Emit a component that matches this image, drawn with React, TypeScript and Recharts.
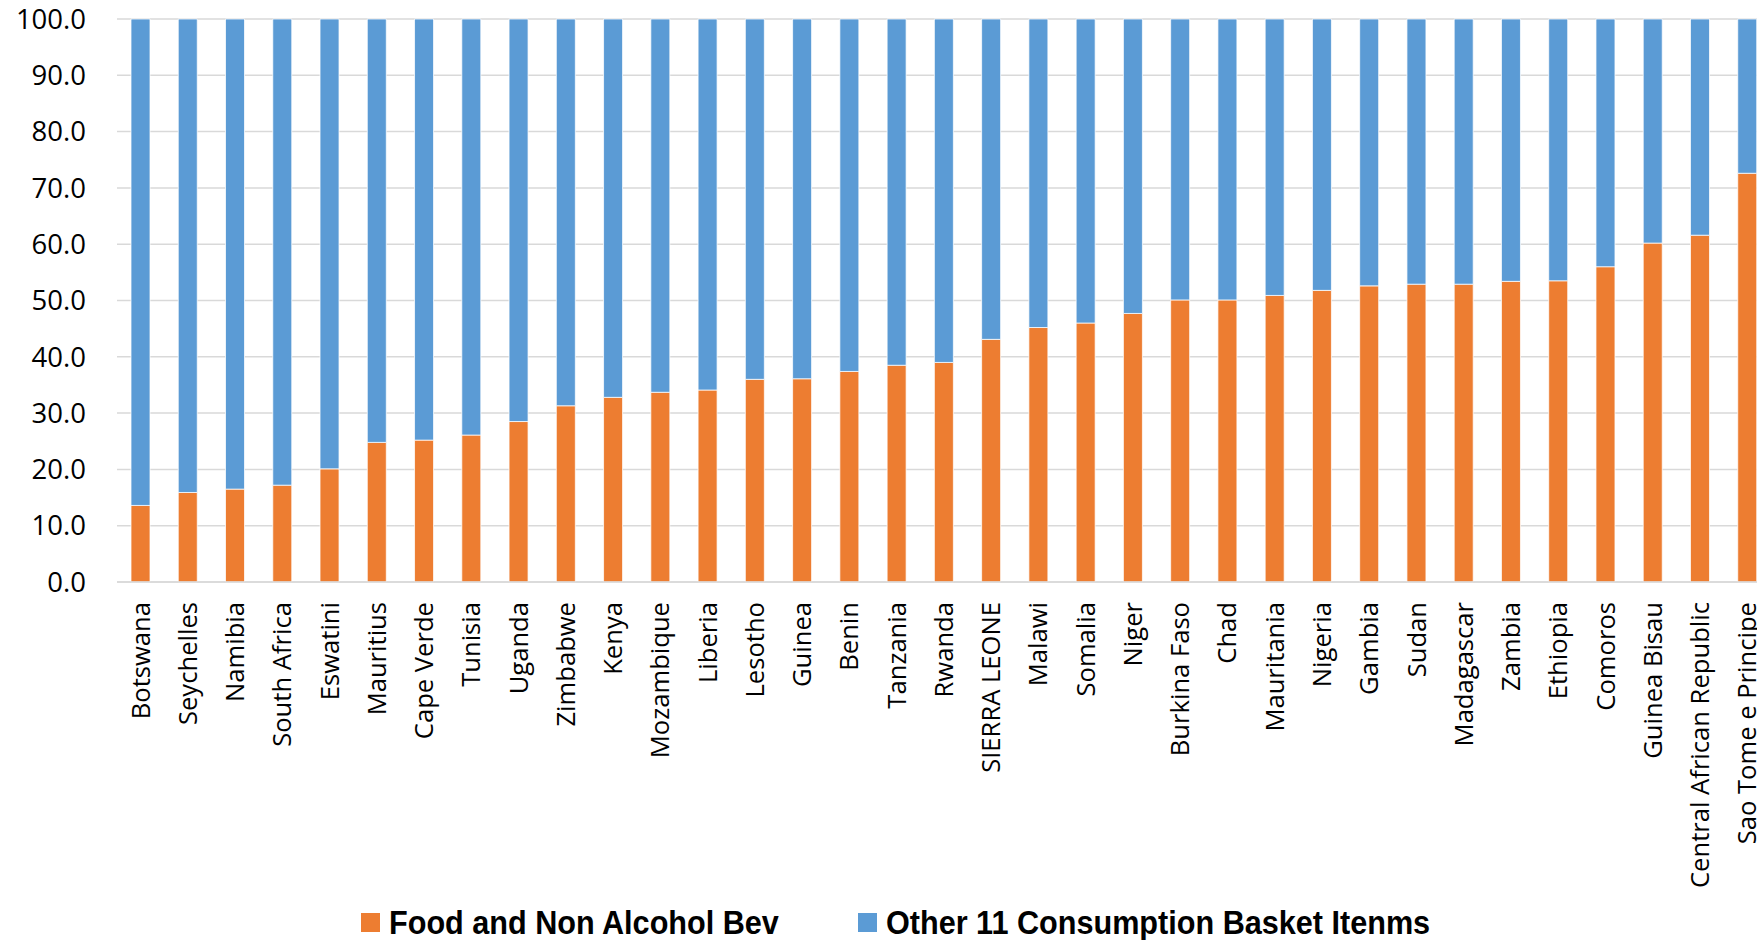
import { Bar, BarChart, CartesianGrid, Legend, XAxis, YAxis } from 'recharts';

const COUNTRIES = [
  'Botswana', 'Seychelles', 'Namibia', 'South Africa', 'Eswatini', 'Mauritius', 'Cape Verde',
  'Tunisia', 'Uganda', 'Zimbabwe', 'Kenya', 'Mozambique', 'Liberia', 'Lesotho', 'Guinea',
  'Benin', 'Tanzania', 'Rwanda', 'SIERRA LEONE', 'Malawi', 'Somalia', 'Niger', 'Burkina Faso',
  'Chad', 'Mauritania', 'Nigeria', 'Gambia', 'Sudan', 'Madagascar', 'Zambia', 'Ethiopia',
  'Comoros', 'Guinea Bisau', 'Central African Republic', 'Sao Tome e Principe',
];

const FOOD = [
  13.6, 15.9, 16.5, 17.2, 20.1, 24.8, 25.2, 26.1, 28.5, 31.3, 32.8, 33.7, 34.1, 36.0, 36.1,
  37.4, 38.5, 39.0, 43.1, 45.2, 46.0, 47.7, 50.1, 50.1, 50.9, 51.8, 52.6, 52.9, 52.9, 53.4,
  53.5, 56.0, 60.2, 61.6, 72.6,
];

const OTHER = [
  86.4, 84.1, 83.5, 82.8, 79.9, 75.2, 74.8, 73.9, 71.5, 68.7, 67.2, 66.3, 65.9, 64.0, 63.9,
  62.6, 61.5, 61.0, 56.9, 54.8, 54.0, 52.3, 49.9, 49.9, 49.1, 48.2, 47.4, 47.1, 47.1, 46.6,
  46.5, 44.0, 39.8, 38.4, 27.4,
];

const Y_TICKS = [0, 10, 20, 30, 40, 50, 60, 70, 80, 90, 100];

const FOOD_COLOR = '#ED7D31';
const OTHER_COLOR = '#5B9BD5';
const FONT = "'Open Sans', sans-serif";

const data = COUNTRIES.map((country, i) => ({
  country,
  food: FOOD[i],
  other: OTHER[i],
}));

function CountryTick({ x, y, payload }: any) {
  const ty = y + 12;
  return (
    <text
      x={x}
      y={ty}
      transform={`rotate(-90, ${x}, ${ty})`}
      textAnchor="end"
      dy="0.35em"
      fontFamily={FONT}
      fontSize={25.6}
      fill="#000"
    >
      {payload.value}
    </text>
  );
}

function LegendBox() {
  const items = [
    { label: 'Food and Non Alcohol Bev', color: FOOD_COLOR, left: 0 },
    { label: 'Other 11 Consumption Basket Itenms', color: OTHER_COLOR, left: 497 },
  ];
  return (
    <div style={{ position: 'relative', width: 1100, height: 40 }}>
      {items.map((it) => (
        <div
          key={it.label}
          style={{ position: 'absolute', left: it.left, top: 0, height: 40, display: 'flex', alignItems: 'center' }}
        >
          <span style={{ width: 19, height: 19, background: it.color, marginRight: 9, flex: 'none' }} />
          <span
            style={{
              fontFamily: "'Liberation Sans Narrow', 'Arial Narrow', sans-serif",
              fontWeight: 700,
              fontSize: 34,
              color: '#000',
              whiteSpace: 'nowrap',
              display: 'inline-block',
              transform: 'scaleX(0.9)',
              transformOrigin: 'left center',
            }}
          >
            {it.label}
          </span>
        </div>
      ))}
    </div>
  );
}

export default function App() {
  return (
    <div
      style={{
        position: 'fixed',
        left: 0,
        top: 0,
        width: 1757,
        height: 940,
        overflow: 'hidden',
        background: '#fff',
      }}
    >
      <BarChart
        width={1790}
        height={940}
        data={data}
        margin={{ top: 19, right: 19, left: 0, bottom: 0 }}
        barSize={19}
      >
        <CartesianGrid vertical={false} stroke="#d9d9d9" strokeWidth={1.5} />
        <XAxis
          dataKey="country"
          interval={0}
          height={318}
          tickLine={false}
          axisLine={{ stroke: '#d9d9d9', strokeWidth: 1.5 }}
          tick={<CountryTick />}
        />
        <YAxis
          width={117}
          domain={[0, 100]}
          ticks={Y_TICKS}
          axisLine={false}
          tickLine={false}
          tickMargin={25}
          tickFormatter={(v: number) => v.toFixed(1)}
          tick={{ fontFamily: FONT, fontSize: 27.5, fill: '#000' }}
        />
        <Legend
          content={<LegendBox />}
          wrapperStyle={{ position: 'absolute', left: 361, top: 902, width: 1100, height: 40 }}
        />
        <Bar dataKey="food" stackId="a" fill={FOOD_COLOR} stroke="#ffffff" strokeWidth={0.75} isAnimationActive={false} />
        <Bar dataKey="other" stackId="a" fill={OTHER_COLOR} stroke="#ffffff" strokeWidth={0.75} isAnimationActive={false} />
      </BarChart>
    </div>
  );
}
